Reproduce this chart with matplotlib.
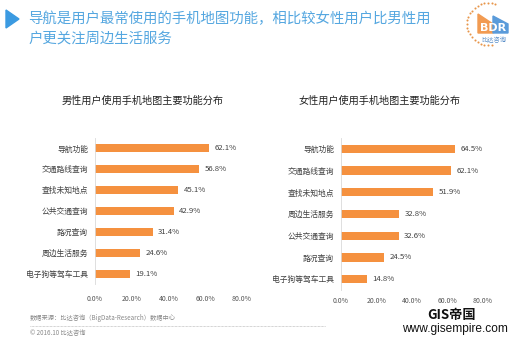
import numpy as np
import matplotlib
matplotlib.use('Agg')
import matplotlib.pyplot as plt
from matplotlib.patches import Polygon

plt.rcParams['font.family'] = ['Noto Sans CJK SC', 'DejaVu Sans']

# male / female usage of map app functions (%)
male_items = ['导航功能', '交通路线查询', '查找未知地点', '公共交通查询', '路况查询', '周边生活服务', '电子狗等驾车工具']
male_vals = [62.1, 56.8, 45.1, 42.9, 31.4, 24.6, 19.1]
female_items = ['导航功能', '交通路线查询', '查找未知地点', '周边生活服务', '公共交通查询', '路况查询', '电子狗等驾车工具']
female_vals = [64.5, 62.1, 51.9, 32.8, 32.6, 24.5, 14.8]
xticks = [0, 20, 40, 60, 80]

BAR = '#F5913F'
W, H = 516, 343

fig = plt.figure(figsize=(W / 100, H / 100), dpi=100)


def px_axes(x0, y0, x1, y1):
    return fig.add_axes([x0 / W, 1 - y1 / H, (x1 - x0) / W, (y1 - y0) / H])


def draw_panel(ax, items, vals, title, title_x):
    y = np.arange(len(items))
    ax.barh(y, vals, height=0.38, color=BAR)
    ax.set_xlim(0, 80)
    ax.set_ylim(len(items) - 0.5, -0.5)
    ax.set_yticks(y)
    ax.set_yticklabels(items, fontsize=5.6, color='#404040')
    ax.set_xticks(xticks)
    ax.set_xticklabels(['%.1f%%' % t for t in xticks], fontsize=5, color='#555555')
    ax.tick_params(length=0, pad=5)
    for s in ['top', 'right', 'bottom']:
        ax.spines[s].set_visible(False)
    ax.spines['left'].set_color('#d9d9d9')
    ax.spines['left'].set_linewidth(0.6)
    for yi, v in zip(y, vals):
        ax.text(v + 3, yi, '%.1f%%' % v, va='center', ha='left', fontsize=5.6, color='#404040')
    fig.text(title_x / W, 1 - 101 / H, title, ha='center', va='center', fontsize=7.3, color='#222222')


ax1 = px_axes(95, 138, 242, 284)
draw_panel(ax1, male_items, male_vals, '男性用户使用手机地图主要功能分布', 143)
ax1.tick_params(axis='x', pad=8)
ax2 = px_axes(341, 138, 483, 290)
draw_panel(ax2, female_items, female_vals, '女性用户使用手机地图主要功能分布', 380)
ax2.tick_params(axis='x', pad=5)

# overlay in pixel coordinates for header, logo and footer
deco = fig.add_axes([0, 0, 1, 1], zorder=-1)
deco.set_xlim(0, W)
deco.set_ylim(H, 0)
deco.axis('off')

deco.add_patch(Polygon([[6, 10], [6, 28], [19, 19]], closed=True, color='#3B9AE1'))
deco.text(28, 19, '导航是用户最常使用的手机地图功能，相比较女性用户比男性用', fontsize=10.4,
          color='#55A7E0', va='center', ha='left')
deco.text(28, 39, '户更关注周边生活服务', fontsize=10.4, color='#55A7E0', va='center', ha='left')

# logo
ang = np.linspace(np.radians(70), np.radians(280), 22)
deco.scatter(488 + 21 * np.cos(ang), 24 - 21 * np.sin(ang), s=2.2, color='#E8954A', lw=0)
deco.add_patch(Polygon([[478, 33], [478, 14], [493, 24], [493, 33]], closed=True, color='#F29B52'))
deco.add_patch(Polygon([[493, 33], [493, 16], [508, 24], [508, 33]], closed=True, color='#5A9BDA'))
deco.text(493, 28, 'BDR', fontsize=8, color='white', fontweight='bold', ha='center', va='center',
          family='DejaVu Sans')
deco.text(494, 40, '比达咨询', fontsize=4.5, color='#5A8FC8', ha='center', va='center')

# footer
deco.text(30, 318, '数据来源：比达咨询（BigData-Research）数据中心', fontsize=4.5, color='#888888',
          va='center', ha='left')
deco.plot([30, 325], [326, 326], ls=(0, (1, 1)), lw=0.5, color='#aaaaaa')
deco.text(30, 333, '© 2016.10 比达咨询', fontsize=4.5, color='#888888', va='center', ha='left')

deco.text(452, 315, 'GIS帝国', fontsize=9.5, fontweight='bold', color='#111111',
          ha='center', va='center', family=['Noto Sans CJK SC', 'DejaVu Sans'])
deco.text(455, 329, 'www.gisempire.com', fontsize=8.6, color='#111111', ha='center', va='center',
          family='Liberation Sans')

fig.savefig('out.png', dpi=100)
